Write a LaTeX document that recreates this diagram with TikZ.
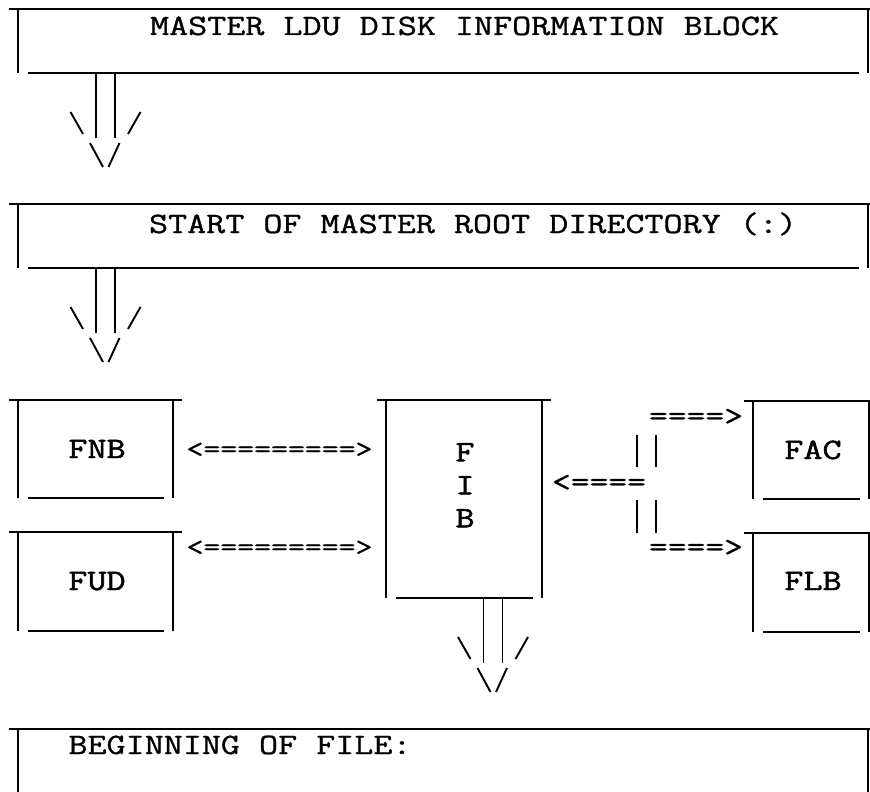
\documentclass[tikz,border=0pt]{standalone}
\usepackage{fontspec}
\newfontfamily\typefont{Latin Modern Mono}[FakeBold=0.9]
\newfontfamily\heavyfont{Latin Modern Mono}[FakeBold=1.6]
% typewriter capitals are set a little shorter than the mono face draws them
\newcommand\squash[1]{\scalebox{1}[0.8]{#1}}
% open-ended frame in the style of a character-cell drawing
\newcommand\cellframe[1]{%
  \draw[frame] ([xshift=-9pt]#1.north west) -- ([xshift=9pt]#1.north east);
  \draw[frame] (#1.north west) -- (#1.south west);
  \draw[frame] (#1.north east) -- (#1.south east);
  \draw[frame] ([xshift=10pt]#1.south west) -- ([xshift=-9pt]#1.south east);}
\begin{document}
\begin{tikzpicture}[x=1pt,y=-1pt,
  frame/.style={line width=1.9pt, line cap=butt},
  area/.style={inner sep=0pt, outer sep=0pt, draw=none,
    minimum width=#1},
  bigtxt/.style={font=\typefont\fontsize{37}{38}\selectfont, inner sep=0pt, anchor=base},
  boxtxt/.style={font=\heavyfont\fontsize{37}{33}\selectfont, inner sep=0pt, anchor=base},
  longarrow/.style={font=\typefont\fontsize{32.8}{34}\selectfont, inner sep=0pt, anchor=center},
  shortarrow/.style={font=\typefont\fontsize{36.5}{38}\selectfont, inner sep=0pt, anchor=center},
  asciidown/.pic={
    \draw[frame] (-9.5,0) -- (-9.5,65);
    \draw[frame] (9.5,0) -- (9.5,65);
    \draw[frame] (-35,39) -- (-22.5,61);
    \draw[frame] (35,39) -- (22.5,61);
    \draw[frame] (-15.5,70) -- (-2.5,94);
    \draw[frame] (14,70) -- (3,94);
  }]
\clip (0,0) rectangle (870,792);
\fill[white] (0,0) rectangle (870,792);

% block areas (bar to bar, top rule to bottom rule)
\node[area=850pt, minimum height=64pt] (m1) at (443,41) {};
\node[area=850pt, minimum height=64pt] (m2) at (443,236) {};
\node[area=155pt, minimum height=98pt] (fnb) at (95.5,449) {};
\node[area=155pt, minimum height=99pt] (fud) at (95.5,581.5) {};
\node[area=156pt, minimum height=198pt] (fib) at (464,499) {};
\node[area=116pt, minimum height=98pt] (fac) at (811,450) {};
\node[area=116pt, minimum height=99pt] (flb) at (811,582.5) {};
\node[area=850pt, minimum height=71pt] (bof) at (443,764.5) {};

\cellframe{m1}
\cellframe{m2}
\cellframe{fnb}
\cellframe{fud}
\cellframe{fib}
\cellframe{fac}
\cellframe{flb}
\draw[frame] ([xshift=-9pt]bof.north west) -- ([xshift=9pt]bof.north east);
\draw[frame] (bof.north west) -- (bof.south west);
\draw[frame] (bof.north east) -- (bof.south east);

% block titles
\node[bigtxt] (t1) at (464.5,35) {\squash{MASTER LDU DISK INFORMATION BLOCK}};
\node[bigtxt] (t2) at (473,233) {\squash{START OF MASTER ROOT DIRECTORY (:)}};
\node[bigtxt] (t3) at (240,754) {\squash{BEGINNING OF FILE:}};
\node[boxtxt] (tfnb) at (97,458) {\squash{FNB}};
\node[boxtxt] (tfud) at (97,590) {\squash{FUD}};
\node[boxtxt] (tfac) at (813,459) {\squash{FAC}};
\node[boxtxt] (tflb) at (813,590) {\squash{FLB}};
\node[boxtxt, anchor=north, align=center] (tfib) at (465,443)
  {\squash{F}\\\squash{I}\\\squash{B}};

% downward double arrows
\coordinate (d1) at ([xshift=87.5pt]m1.south west);
\coordinate (d2) at ([xshift=87.5pt]m2.south west);
\coordinate (d3) at ([xshift=29pt]fib.south);
\pic at (d1) {asciidown};
\pic at (d2) {asciidown};
\pic at (d3) {asciidown};

% links between the file blocks
\node[longarrow] (l1) at (279.5,450) {\squash{<=========>}};
\node[longarrow] (l2) at (279.5,548) {\squash{<=========>}};
\node[shortarrow] (l3) at (599,483) {\squash{<====}};
\node[shortarrow] (l4) at (696,417) {\squash{====>}};
\node[shortarrow] (l5) at (696,548) {\squash{====>}};
\coordinate (j1) at (637,435);
\coordinate (j2) at (656,435);
\coordinate (j3) at (637,500);
\coordinate (j4) at (656,500);
\draw[frame] (j1) -- ++(0,32);
\draw[frame] (j2) -- ++(0,32);
\draw[frame] (j3) -- ++(0,33);
\draw[frame] (j4) -- ++(0,33);
\end{tikzpicture}
\end{document}
